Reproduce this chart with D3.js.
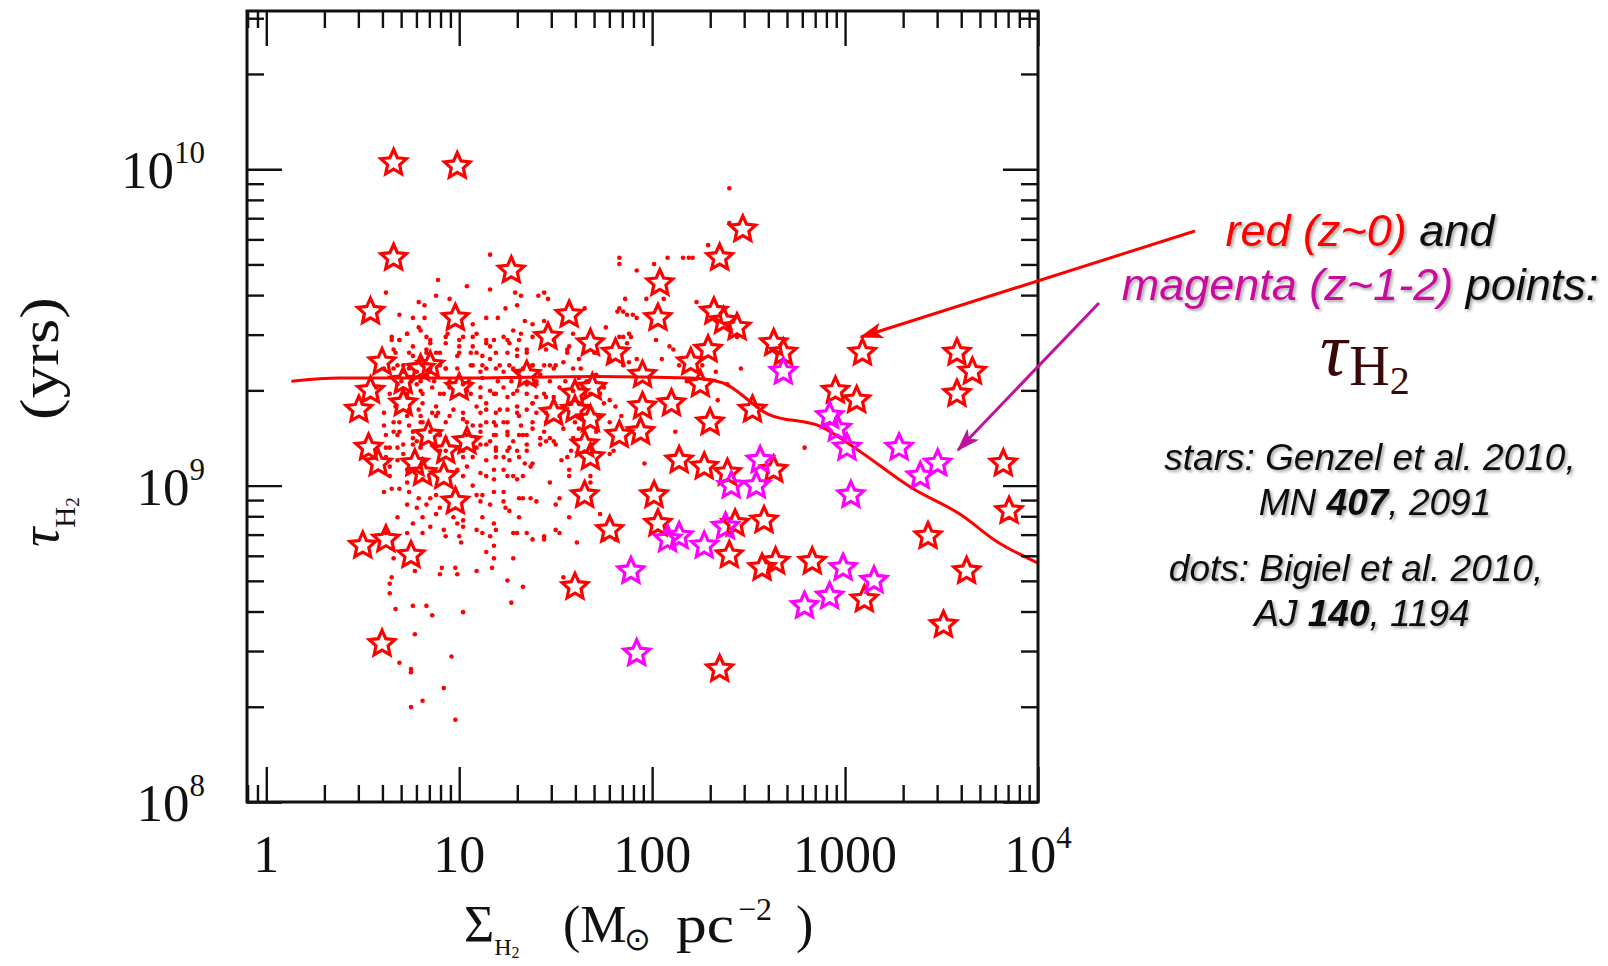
<!DOCTYPE html>
<html>
<head>
<meta charset="utf-8">
<script src="https://cdn.jsdelivr.net/npm/d3@7"></script>
<style>
  html, body { margin: 0; padding: 0; background: #fff; }
  svg { display: block; }
  .ticks line { stroke: #111; stroke-width: 2.4; }
  .serif { font-family: "Liberation Serif", "Times New Roman", serif; fill: #111; }
  .note { font-family: "Liberation Sans", Arial, sans-serif; font-style: italic; fill: #111; }
</style>
</head>
<body>
<svg id="chart" width="1608" height="966"></svg>
<script>
// values, as [log10 Sigma_H2 (Msun pc^-2), log10 tau_H2 (yr)]
const redStars = [
  [0.66, 10.02], [0.99, 10.01], [0.66, 9.72], [1.27, 9.68], [2.47, 9.81], [2.35, 9.72],
  [2.04, 9.64], [0.54, 9.55], [0.98, 9.53], [1.57, 9.54], [2.03, 9.53], [2.32, 9.55],
  [2.37, 9.52], [2.44, 9.50], [2.63, 9.45], [2.68, 9.42], [3.09, 9.42], [3.58, 9.42],
  [3.66, 9.36], [3.58, 9.29], [0.60, 9.39], [1.46, 9.47], [1.68, 9.45], [1.81, 9.42],
  [2.29, 9.43], [2.20, 9.39], [2.95, 9.30], [3.06, 9.27], [2.52, 9.24], [0.48, 9.24],
  [0.54, 9.30], [0.71, 9.26], [2.30, 9.20], [2.10, 9.26], [1.95, 9.25], [2.25, 9.32],
  [0.53, 9.12], [0.58, 9.07], [1.04, 9.14], [0.98, 8.95], [0.77, 9.07], [0.84, 9.16],
  [1.49, 9.23], [1.60, 9.24], [1.68, 9.21], [1.83, 9.16], [1.94, 9.17], [1.65, 9.13],
  [1.68, 9.09], [2.14, 9.08], [2.27, 9.06], [2.39, 9.04], [2.63, 9.05], [3.82, 9.07],
  [1.65, 8.97], [2.01, 8.97], [3.85, 8.92], [0.50, 8.81], [0.62, 8.83], [0.75, 8.78],
  [1.78, 8.86], [2.03, 8.88], [2.43, 8.88], [2.58, 8.89], [2.40, 8.78], [2.57, 8.74],
  [2.64, 8.76], [2.83, 8.76], [3.43, 8.84], [3.63, 8.73], [1.60, 8.68], [3.10, 8.64],
  [3.51, 8.56], [0.60, 8.50], [2.35, 8.42],
  [0.80, 9.37], [1.35, 9.35], [1.69, 9.31], [0.93, 9.11], [0.81, 9.04], [0.92, 9.03],
  [0.85, 9.38], [0.71, 9.33], [1.00, 9.31], [1.60, 9.29], [1.95, 9.35]
];

const magentaStars = [
  [2.68, 9.36], [2.92, 9.22], [2.96, 9.18], [3.01, 9.12], [3.28, 9.12], [3.48, 9.07],
  [3.39, 9.03], [3.03, 8.97], [2.56, 9.08], [2.41, 9.00], [2.54, 9.00], [2.38, 8.87],
  [2.08, 8.83], [2.14, 8.84], [2.27, 8.81], [1.89, 8.73], [1.92, 8.47], [2.79, 8.62],
  [2.92, 8.65], [2.99, 8.74], [3.15, 8.70]
];

const bigielDots = [
  [1.16, 9.73], [0.89, 9.65], [0.62, 9.61], [1.04, 9.63], [1.16, 9.62], [1.29, 9.61],
  [1.32, 9.60], [0.88, 9.60], [0.95, 9.59], [0.79, 9.58], [0.82, 9.57], [1.24, 9.56],
  [1.30, 9.57], [0.69, 9.54], [0.76, 9.53], [0.82, 9.53], [1.14, 9.53], [1.20, 9.53],
  [1.07, 9.51], [0.79, 9.50], [1.28, 9.49], [1.34, 9.52], [0.65, 9.47], [0.73, 9.48],
  [0.83, 9.47], [0.94, 9.48], [1.02, 9.47], [1.09, 9.48], [1.14, 9.46], [1.23, 9.47],
  [1.32, 9.48], [0.69, 9.46], [0.76, 9.44], [0.85, 9.45], [0.93, 9.45], [1.00, 9.44],
  [1.07, 9.44], [1.16, 9.44], [1.26, 9.45], [0.66, 9.43], [0.74, 9.42], [0.83, 9.42],
  [0.90, 9.42], [0.99, 9.41], [1.06, 9.42], [1.12, 9.41], [1.19, 9.42], [1.30, 9.41],
  [1.35, 9.43],
  [2.40, 9.94], [2.40, 9.83], [1.83, 9.72], [1.83, 9.70], [1.92, 9.68], [2.01, 9.70],
  [2.08, 9.72], [2.16, 9.72], [2.19, 9.72], [2.21, 9.72], [2.29, 9.76], [1.41, 9.60],
  [1.44, 9.61], [1.46, 9.59], [1.86, 9.59], [1.97, 9.59], [2.06, 9.59], [2.23, 9.58],
  [1.83, 9.56], [1.85, 9.55], [1.82, 9.55], [1.87, 9.54], [1.90, 9.54], [1.92, 9.53],
  [1.76, 9.50], [2.02, 9.46], [1.85, 9.47], [1.88, 9.48], [1.89, 9.47], [1.83, 9.47],
  [1.87, 9.45], [1.38, 9.51], [1.44, 9.52], [1.65, 9.56], [1.59, 9.48], [2.09, 9.44],
  [2.11, 9.43], [1.56, 9.43], [1.57, 9.44],
  [0.68, 9.38], [0.74, 9.37], [0.81, 9.38], [0.90, 9.38], [0.99, 9.37], [1.06, 9.38],
  [1.12, 9.38], [1.19, 9.37], [1.26, 9.38], [1.33, 9.37], [0.61, 9.37], [0.71, 9.36],
  [0.85, 9.36], [0.93, 9.37], [1.11, 9.36], [1.23, 9.36], [1.31, 9.36],
  [0.57, 9.31], [0.68, 9.32], [0.78, 9.32], [0.86, 9.31], [0.95, 9.31], [1.02, 9.32],
  [1.11, 9.31], [1.16, 9.30], [1.23, 9.31], [1.30, 9.30], [1.35, 9.32], [0.73, 9.29],
  [0.81, 9.29], [0.92, 9.29], [1.06, 9.29], [1.19, 9.29], [1.28, 9.29],
  [0.61, 9.23], [0.79, 9.24], [0.80, 9.22], [0.86, 9.23], [0.89, 9.23], [0.95, 9.22],
  [1.02, 9.23], [1.11, 9.23], [1.14, 9.24], [1.19, 9.23], [1.25, 9.24], [1.30, 9.23],
  [1.35, 9.24], [0.69, 9.20], [0.74, 9.19], [0.81, 9.20], [1.04, 9.20], [1.07, 9.19],
  [1.14, 9.20], [1.19, 9.19], [1.23, 9.20], [1.32, 9.19],
  [0.61, 9.19], [0.66, 9.17], [0.68, 9.16], [0.76, 9.17], [0.78, 9.14], [0.90, 9.16],
  [0.93, 9.15], [1.09, 9.15], [1.16, 9.14], [1.19, 9.16], [1.25, 9.16], [1.28, 9.14],
  [1.31, 9.16], [1.35, 9.16], [0.62, 9.12], [0.68, 9.12], [0.76, 9.13], [0.90, 9.11],
  [1.02, 9.11], [1.09, 9.12], [1.14, 9.13], [1.19, 9.12], [1.25, 9.11], [1.30, 9.11],
  [1.35, 9.11], [0.62, 9.09], [0.68, 9.08], [0.71, 9.10], [1.02, 9.09], [1.07, 9.09],
  [1.14, 9.08], [1.19, 9.09], [1.23, 9.09], [1.26, 9.08], [1.31, 9.09], [1.34, 9.07],
  [0.64, 9.06], [0.73, 9.05], [0.99, 9.05], [1.04, 9.06], [1.11, 9.04], [1.18, 9.05],
  [1.23, 9.05], [1.28, 9.03], [1.33, 9.03], [1.37, 9.06], [0.64, 9.03], [0.73, 9.01],
  [0.81, 9.02], [1.02, 9.03], [1.07, 9.00], [1.14, 9.03], [1.18, 9.02], [1.25, 9.03],
  [1.30, 9.02], [0.61, 8.98], [0.65, 8.99], [0.69, 8.99], [0.74, 8.98], [0.79, 8.96],
  [0.85, 8.96], [0.88, 8.97], [1.09, 8.97], [1.12, 8.97], [1.18, 8.98], [1.23, 8.98],
  [1.31, 8.96], [1.33, 8.96], [1.37, 8.96], [0.73, 8.94], [0.78, 8.93], [0.83, 8.94],
  [0.90, 8.93], [1.11, 8.95], [1.16, 8.94], [1.23, 8.95], [1.24, 8.93], [0.68, 8.90],
  [0.81, 8.90], [0.88, 8.91], [0.97, 8.90], [1.02, 8.89], [1.12, 8.90], [1.18, 8.88],
  [1.26, 8.92], [1.31, 8.90], [0.76, 8.88], [0.85, 8.87], [0.99, 8.88], [1.02, 8.87],
  [1.09, 8.86], [1.19, 8.86], [1.28, 8.85], [1.35, 8.85], [0.62, 8.85], [0.73, 8.85],
  [0.81, 8.85], [0.92, 8.86], [0.93, 8.84], [1.00, 8.84], [1.12, 8.85], [1.16, 8.84],
  [1.30, 8.85],
  [1.38, 9.26], [1.44, 9.29], [1.40, 9.28], [1.45, 9.23], [1.40, 9.23], [1.78, 9.27],
  [1.81, 9.25], [2.12, 9.17], [2.34, 9.27], [1.38, 9.18], [1.44, 9.17], [1.45, 9.14],
  [1.42, 9.13], [1.47, 9.15], [1.49, 9.14], [1.50, 9.13], [1.54, 9.18], [1.59, 9.15],
  [1.62, 9.18], [1.71, 9.17], [1.78, 9.10], [1.80, 9.11], [1.38, 9.07], [1.53, 9.08],
  [1.56, 9.09], [1.58, 9.11], [1.57, 9.05], [1.57, 9.03], [1.68, 9.03], [1.68, 9.01],
  [1.47, 9.01], [1.52, 8.96], [1.50, 8.94], [1.40, 8.95], [1.96, 9.07], [1.57, 8.90],
  [1.73, 8.91], [1.50, 8.86], [1.52, 8.85], [1.44, 8.84],
  [1.38, 9.38], [1.44, 9.38], [1.47, 9.38], [1.50, 9.38], [1.54, 9.39], [1.42, 9.35],
  [1.47, 9.33], [1.40, 9.32], [1.52, 9.31], [1.63, 9.37], [1.66, 9.33], [1.59, 9.30],
  [1.71, 9.35], [1.68, 9.29], [1.75, 9.31], [1.88, 9.39], [2.14, 9.38], [2.18, 9.33],
  [2.26, 9.38], [2.33, 9.36], [2.39, 9.32],
  [0.65, 9.46], [0.69, 9.46], [0.73, 9.48], [0.80, 9.49], [0.85, 9.46], [0.93, 9.47],
  [1.00, 9.46], [1.07, 9.47], [1.14, 9.45], [1.18, 9.46], [1.25, 9.46], [1.31, 9.46],
  [1.38, 9.47], [1.49, 9.46], [0.67, 9.42], [0.76, 9.41], [0.83, 9.43], [0.88, 9.42],
  [1.00, 9.42], [1.09, 9.42], [1.16, 9.40], [1.25, 9.42], [1.30, 9.43], [1.35, 9.42],
  [1.45, 9.43], [1.56, 9.42], [0.66, 9.37], [0.71, 9.38], [0.78, 9.36], [0.85, 9.37],
  [0.93, 9.37], [1.07, 9.38], [1.14, 9.37], [1.21, 9.38], [1.28, 9.37], [1.38, 9.38],
  [1.49, 9.37], [1.59, 9.37], [0.70, 9.33], [0.75, 9.33], [0.80, 9.33], [0.87, 9.33],
  [0.95, 9.33], [1.05, 9.33], [1.12, 9.34], [1.20, 9.33], [1.27, 9.33], [1.40, 9.33],
  [1.55, 9.33], [1.62, 9.34], [0.64, 9.29], [0.73, 9.28], [0.80, 9.30], [0.90, 9.29],
  [1.04, 9.30], [1.11, 9.28], [1.18, 9.29], [1.25, 9.28], [1.35, 9.29], [1.45, 9.28],
  [1.49, 9.28], [1.59, 9.30], [1.73, 9.29], [0.67, 9.25], [0.74, 9.24], [0.81, 9.26],
  [0.88, 9.25], [0.97, 9.24], [1.09, 9.25], [1.14, 9.26], [1.21, 9.24], [1.30, 9.25],
  [1.38, 9.26], [1.75, 9.26], [0.66, 9.20], [0.73, 9.22], [0.80, 9.20], [0.88, 9.22],
  [0.93, 9.20], [1.02, 9.21], [1.11, 9.19], [1.18, 9.20], [1.25, 9.20], [1.31, 9.22],
  [1.38, 9.20], [1.78, 9.20], [0.62, 9.16], [0.69, 9.17], [0.76, 9.15], [0.85, 9.17],
  [0.90, 9.16], [1.04, 9.16], [1.11, 9.17], [1.18, 9.16], [1.25, 9.17], [1.33, 9.16],
  [1.42, 9.15], [0.64, 9.12], [0.71, 9.13], [0.80, 9.12], [0.86, 9.13], [0.93, 9.11],
  [1.11, 9.13], [1.19, 9.11], [1.26, 9.12], [1.35, 9.13],
  [1.62, 9.40], [1.70, 9.42], [1.78, 9.40], [1.85, 9.38], [1.92, 9.40], [2.05, 9.40],
  [1.66, 9.25], [1.72, 9.22], [1.84, 9.22], [1.60, 9.20], [1.45, 9.20], [1.52, 9.22],
  [1.01, 8.82], [1.18, 8.81], [1.14, 8.79], [1.18, 8.77], [1.28, 8.77], [0.66, 8.77],
  [0.91, 8.74], [0.98, 8.74], [0.90, 8.72], [0.99, 8.72], [1.09, 8.73], [1.17, 8.74],
  [0.77, 8.73], [0.65, 8.71], [0.64, 8.69], [0.64, 8.66], [1.25, 8.70], [1.33, 8.68],
  [1.27, 8.63], [0.67, 8.61], [0.76, 8.62], [0.83, 8.62], [0.86, 8.59], [1.02, 8.60],
  [0.77, 8.53], [0.96, 8.46], [0.69, 8.44], [0.75, 8.42], [0.75, 8.41], [0.92, 8.36],
  [0.81, 8.32], [0.75, 8.30], [0.98, 8.26],
  [1.54, 8.71], [1.61, 8.82], [1.38, 8.83], [1.44, 8.83], [1.75, 8.83], [1.81, 8.83],
  [2.79, 9.12], [2.46, 9.37], [2.44, 9.47]
];

const modelCurve = [
  [0.13, 9.33], [0.38, 9.34], [1.00, 9.34], [1.71, 9.345], [2.20, 9.34], [2.36, 9.326],
  [2.60, 9.226], [2.88, 9.185], [3.07, 9.111], [3.34, 8.995], [3.61, 8.904], [3.77, 8.83],
  [4.00, 8.755]
];

const xTickValues = [1, 10, 100, 1000, 1e4];
const xTickBase = ['1', '10', '100', '1000', '10'];
const xTickPower = ['', '', '', '', '4'];
const yTickValues = [1e8, 1e9, 1e10];
const yTickBase = ['10', '10', '10'];
const yTickPower = ['8', '9', '10'];

const svg = d3.select('#chart');
const frame = { left: 247, right: 1038, top: 11, bottom: 802 };

const x = d3.scaleLog().domain([10 ** -0.1, 1e4]).range([frame.left, frame.right]);
const y = d3.scaleLog().domain([1e8, 10 ** 10.5]).range([frame.bottom, frame.top]);
const px = d => x(10 ** d[0]);
const py = d => y(10 ** d[1]);

const defs = svg.append('defs');
defs.append('filter').attr('id', 'shadow')
  .attr('x', '-5%').attr('y', '-20%').attr('width', '110%').attr('height', '140%')
  .append('feDropShadow')
  .attr('dx', 2).attr('dy', 2).attr('stdDeviation', 1.6)
  .attr('flood-color', '#000').attr('flood-opacity', 0.35);

const addArrowHead = (id, color) => {
  defs.append('marker').attr('id', id)
    .attr('markerUnits', 'userSpaceOnUse')
    .attr('viewBox', '0 0 24 16')
    .attr('markerWidth', 24).attr('markerHeight', 16)
    .attr('refX', 22).attr('refY', 8)
    .attr('orient', 'auto')
    .append('path')
    .attr('d', 'M0,0 L24,8 L0,16 L6,8 Z')
    .attr('fill', color);
};
addArrowHead('headRed', '#ff0000');
addArrowHead('headMagenta', '#c0129c');

// open five-pointed star, size = outer radius squared
const openStar = {
  draw(context, size) {
    const r = Math.sqrt(size);
    const ri = r * 0.47;
    for (let i = 0; i < 10; i++) {
      const a = Math.PI * i / 5 - Math.PI / 2;
      const rr = i % 2 ? ri : r;
      if (i === 0) context.moveTo(rr * Math.cos(a), rr * Math.sin(a));
      else context.lineTo(rr * Math.cos(a), rr * Math.sin(a));
    }
    context.closePath();
  }
};
const starPath = d3.symbol().type(openStar).size(13.5 * 13.5);

// dots
svg.append('g')
  .selectAll('circle')
  .data(bigielDots)
  .join('circle')
  .attr('cx', px)
  .attr('cy', py)
  .attr('r', 2.3)
  .attr('fill', '#ff0000');

// model curve
svg.append('path')
  .datum(modelCurve)
  .attr('d', d3.line().x(px).y(py).curve(d3.curveMonotoneX))
  .attr('fill', 'none')
  .attr('stroke', '#ff0000')
  .attr('stroke-width', 3);

const drawStars = (data, color) => {
  svg.append('g')
    .selectAll('path')
    .data(data)
    .join('path')
    .attr('transform', d => `translate(${px(d)},${py(d)})`)
    .attr('d', starPath)
    .attr('fill', 'none')
    .attr('stroke', color)
    .attr('stroke-width', 3.2)
    .attr('stroke-linejoin', 'miter');
};
drawStars(redStars, '#ff0000');
drawStars(magentaStars, '#ff00ff');

// ticks on all four sides, pointing inwards
const isMajor = v => Math.abs(Math.log10(v) - Math.round(Math.log10(v))) < 1e-6;
const xMinor = x.ticks().filter(v => !isMajor(v));
const yMinor = y.ticks().filter(v => !isMajor(v));

const drawTicks = (axis, transform, values, size) => {
  svg.append('g')
    .attr('class', 'ticks')
    .attr('transform', transform)
    .call(axis.tickValues(values).tickSize(-size).tickFormat(''))
    .call(g => g.select('.domain').remove());
};
[[35, xTickValues, yTickValues], [17, xMinor, yMinor]].forEach(([size, xs, ys]) => {
  drawTicks(d3.axisBottom(x), `translate(0,${frame.bottom})`, xs, size);
  drawTicks(d3.axisTop(x), `translate(0,${frame.top})`, xs, size);
  drawTicks(d3.axisLeft(y), `translate(${frame.left},0)`, ys, size);
  drawTicks(d3.axisRight(y), `translate(${frame.right},0)`, ys, size);
});

svg.append('rect')
  .attr('x', frame.left).attr('y', frame.top)
  .attr('width', frame.right - frame.left)
  .attr('height', frame.bottom - frame.top)
  .attr('fill', 'none')
  .attr('stroke', '#111')
  .attr('stroke-width', 3);

// tick labels
const xLabels = svg.append('g').attr('class', 'serif').attr('font-size', 52);
xTickValues.forEach((v, i) => {
  const t = xLabels.append('text')
    .attr('x', x(v))
    .attr('y', 872)
    .attr('text-anchor', 'middle');
  t.append('tspan').text(xTickBase[i]);
  if (xTickPower[i]) {
    t.append('tspan').attr('font-size', 31).attr('dy', -24).text(xTickPower[i]);
  }
});

const yLabels = svg.append('g').attr('class', 'serif').attr('font-size', 53);
yTickValues.forEach((v, i) => {
  const t = yLabels.append('text')
    .attr('x', 205)
    .attr('y', y(v) + 19)
    .attr('text-anchor', 'end');
  t.append('tspan').text(yTickBase[i]);
  t.append('tspan').attr('font-size', 31).attr('dy', -25).text(yTickPower[i]);
});

// axis titles
const xTitle = svg.append('g').attr('class', 'serif').attr('font-size', 52);
const sigma = xTitle.append('text').attr('x', 464).attr('y', 942);
sigma.append('tspan').text('Σ');
sigma.append('tspan').attr('font-size', 24).attr('dy', 13).text('H');
sigma.append('tspan').attr('font-size', 16).attr('dy', 3).text('2');
xTitle.append('text').attr('x', 563).attr('y', 942).text('(M');
xTitle.append('text').attr('x', 624).attr('y', 950).attr('font-size', 32).text('⊙');
xTitle.append('text').attr('x', 676).attr('y', 942)
  .attr('textLength', 58).attr('lengthAdjust', 'spacingAndGlyphs').text('pc');
xTitle.append('text').attr('x', 738).attr('y', 920).attr('font-size', 32).text('−2');
xTitle.append('text').attr('x', 796).attr('y', 942).text(')');

const yTitle = svg.append('g').attr('class', 'serif')
  .attr('transform', 'translate(58,547) rotate(-90)');
const tau = yTitle.append('text').attr('font-size', 54);
tau.append('tspan').attr('font-style', 'italic').text('τ');
tau.append('tspan').attr('font-size', 29).attr('dy', 17).text('H');
tau.append('tspan').attr('font-size', 19).attr('dy', 4).text('2');
yTitle.append('text')
  .attr('x', 127)
  .attr('font-size', 54)
  .attr('textLength', 123)
  .attr('lengthAdjust', 'spacingAndGlyphs')
  .text('(yrs)');

// arrows
svg.append('line')
  .attr('x1', 1195).attr('y1', 231).attr('x2', 861).attr('y2', 337)
  .attr('stroke', '#ff0000').attr('stroke-width', 3)
  .attr('marker-end', 'url(#headRed)');
svg.append('line')
  .attr('x1', 1099).attr('y1', 303).attr('x2', 958).attr('y2', 450)
  .attr('stroke', '#c0129c').attr('stroke-width', 3)
  .attr('marker-end', 'url(#headMagenta)');

// notes
const notes = svg.append('g').attr('class', 'note').attr('filter', 'url(#shadow)')
  .attr('text-anchor', 'middle');

const line1 = notes.append('text').attr('x', 1360).attr('y', 246).attr('font-size', 45);
line1.append('tspan').attr('fill', '#ff0000').text('red (z~0)');
line1.append('tspan').text(' and');

const line2 = notes.append('text').attr('x', 1360).attr('y', 300).attr('font-size', 45);
line2.append('tspan').attr('fill', '#c8109e').text('magenta (z~1-2)');
line2.append('tspan').text(' points:');

const cite = (cx, cy, parts) => {
  const t = notes.append('text').attr('x', cx).attr('y', cy).attr('font-size', 37);
  parts.forEach(([s, bold]) => {
    t.append('tspan').attr('font-weight', bold ? 'bold' : null).text(s);
  });
};
cite(1370, 470, [['stars: Genzel et al. 2010,']]);
cite(1375, 515, [['MN '], ['407', true], [', 2091']]);
cite(1356, 581, [['dots: Bigiel et al. 2010,']]);
cite(1362, 626, [['AJ '], ['140', true], [', 1194']]);

const symbol = svg.append('text').attr('class', 'serif')
  .attr('x', 1320).attr('y', 385)
  .style('fill', '#3a0808');
symbol.append('tspan').attr('font-size', 76).attr('font-style', 'italic').attr('dy', -10).text('τ');
symbol.append('tspan').attr('font-size', 56).attr('dx', 2).attr('dy', 10).text('H');
symbol.append('tspan').attr('font-size', 40).attr('dy', 9).text('2');
</script>
</body>
</html>
